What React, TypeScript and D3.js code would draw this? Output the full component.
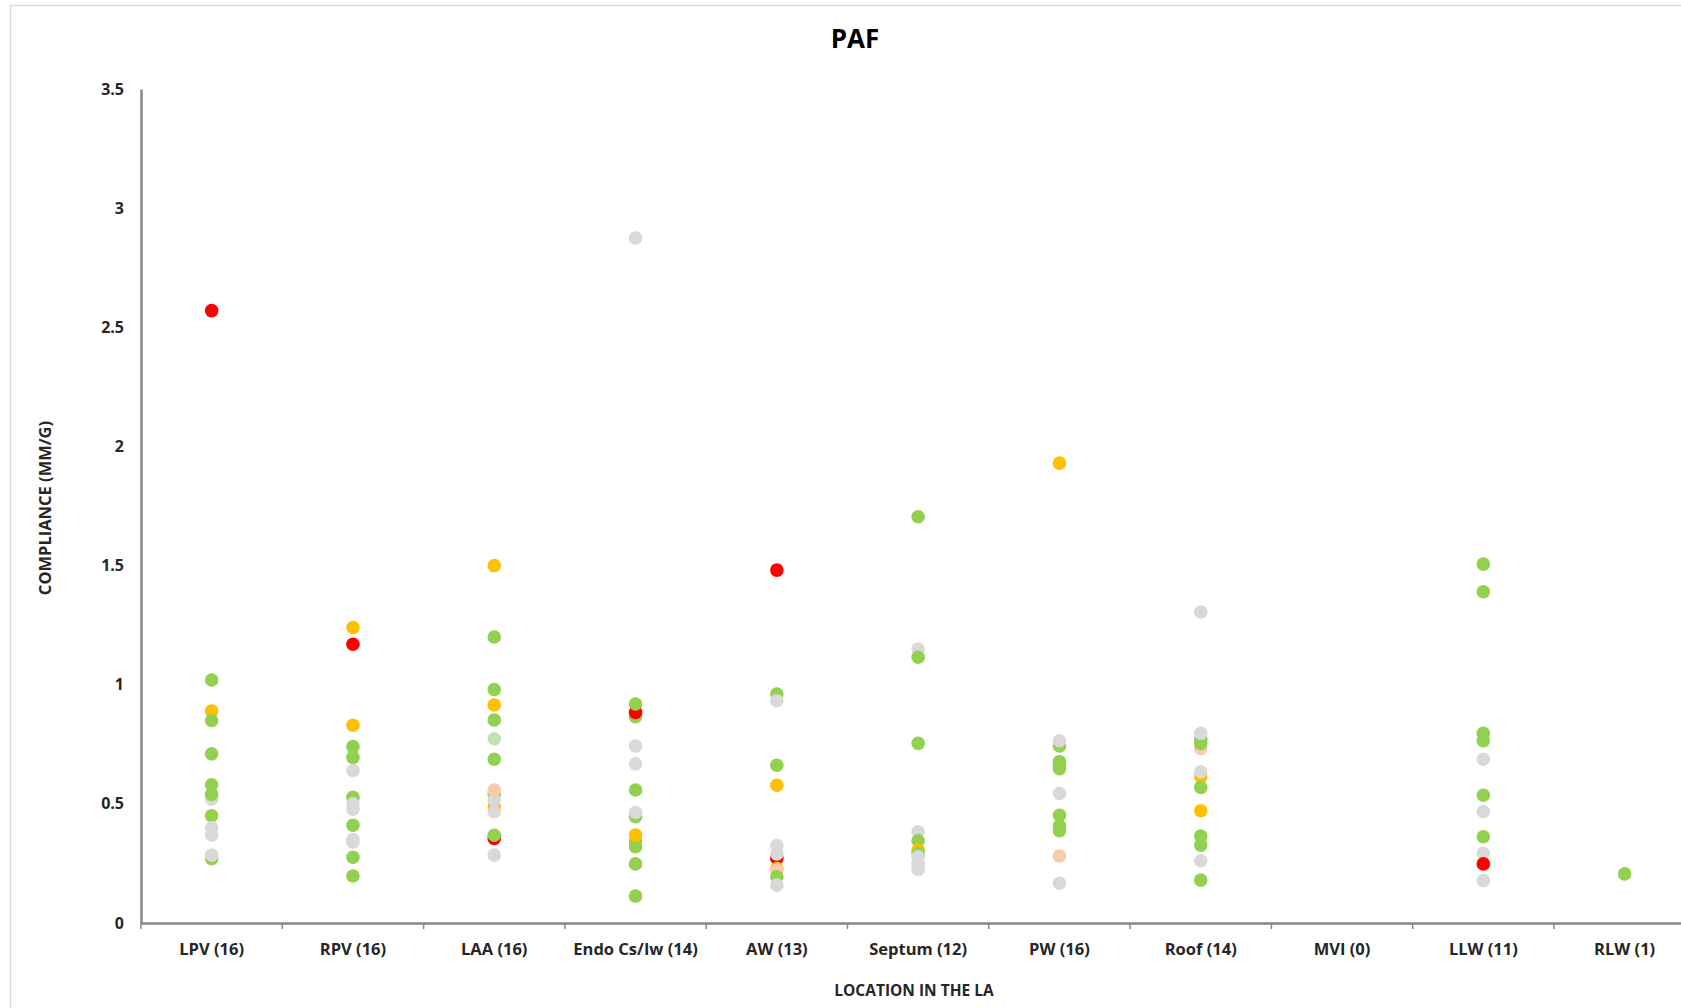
import React, { useEffect, useRef } from "react";
import * as d3 from "d3";

// location labels along the x axis
const categories = [
  "LPV (16)", "RPV (16)", "LAA (16)", "Endo Cs/Iw (14)", "AW (13)", "Septum (12)",
  "PW (16)", "Roof (14)", "MVI (0)", "LLW (11)", "RLW (1)",
];

const yTicks = [0, 0.5, 1, 1.5, 2, 2.5, 3, 3.5];

// [compliance, status] per location, drawn in this order (later on top)
// status: g green, o orange, r red, n grey, p peach, l pale green
const lpv = [[2.57, "r"], [1.02, "g"], [0.89, "o"], [0.85, "g"], [0.71, "g"], [0.58, "g"], [0.52, "n"], [0.54, "g"], [0.45, "g"], [0.40, "n"], [0.37, "n"], [0.27, "g"], [0.285, "n"]];
const rpv = [[1.24, "o"], [1.17, "r"], [0.83, "o"], [0.74, "g"], [0.695, "g"], [0.64, "n"], [0.527, "g"], [0.50, "n"], [0.478, "n"], [0.41, "g"], [0.35, "n"], [0.34, "n"], [0.276, "g"], [0.197, "g"]];
const laa = [[1.50, "o"], [1.20, "g"], [0.98, "g"], [0.915, "o"], [0.852, "g"], [0.773, "l"], [0.687, "g"], [0.54, "g"], [0.488, "o"], [0.516, "n"], [0.467, "n"], [0.558, "p"], [0.355, "r"], [0.368, "g"], [0.285, "n"]];
const endo = [[2.875, "n"], [0.866, "g"], [0.884, "r"], [0.919, "g"], [0.743, "n"], [0.668, "n"], [0.558, "g"], [0.446, "g"], [0.464, "n"], [0.32, "g"], [0.344, "g"], [0.369, "o"], [0.248, "g"], [0.113, "g"]];
const aw = [[1.481, "r"], [0.961, "g"], [0.933, "n"], [0.662, "g"], [0.578, "o"], [0.325, "n"], [0.272, "r"], [0.29, "n"], [0.229, "o"], [0.222, "p"], [0.194, "g"], [0.159, "n"]];
const septum = [[1.705, "g"], [1.15, "n"], [1.115, "g"], [0.754, "g"], [0.383, "n"], [0.345, "g"], [0.306, "o"], [0.292, "g"], [0.278, "n"], [0.25, "n"], [0.225, "n"]];
const pw = [[1.93, "o"], [0.743, "g"], [0.765, "n"], [0.677, "g"], [0.662, "g"], [0.648, "g"], [0.544, "n"], [0.452, "g"], [0.408, "g"], [0.387, "g"], [0.281, "p"], [0.167, "n"]];
const roof = [[1.305, "n"], [0.733, "p"], [0.754, "g"], [0.771, "g"], [0.796, "n"], [0.614, "o"], [0.635, "n"], [0.569, "g"], [0.471, "o"], [0.365, "g"], [0.327, "g"], [0.261, "n"], [0.18, "g"]];
const mvi: [number, string][] = [];
const llw = [[1.506, "g"], [1.39, "g"], [0.796, "g"], [0.765, "g"], [0.687, "n"], [0.536, "g"], [0.468, "n"], [0.362, "g"], [0.292, "n"], [0.248, "r"], [0.178, "n"]];
const rlw = [[0.206, "g"]];

const pointsByCategory = [lpv, rpv, laa, endo, aw, septum, pw, roof, mvi, llw, rlw];

const statusColors = {
  g: "#92D050",
  o: "#FFC000",
  r: "#FF0000",
  n: "#D9D9D9",
  p: "#F8CBAD",
  l: "#C5E0B4",
};

const FONT = "'Open Sans', 'DejaVu Sans', sans-serif";

export default function App() {
  const svgRef = useRef<SVGSVGElement>(null);

  useEffect(() => {
    const width = 1681;
    const height = 1008;
    const margin = { top: 89, left: 141, bottom: 85 };
    const step = 141.3;

    const svg = d3.select(svgRef.current);
    svg.selectAll("*").remove();
    svg.attr("width", width).attr("height", height);

    // chart frame (right and bottom edges fall outside the picture)
    svg.append("rect")
      .attr("x", 10.5)
      .attr("y", 5.5)
      .attr("width", 1720)
      .attr("height", 1040)
      .attr("fill", "#fff")
      .attr("stroke", "#d9d9d9")
      .attr("stroke-width", 1.5);

    const xScale = d3.scaleBand()
      .domain(categories)
      .range([margin.left, margin.left + step * categories.length])
      .padding(0);

    const yScale = d3.scaleLinear()
      .domain([0, 3.5])
      .range([height - margin.bottom, margin.top]);

    // y axis
    const yAxis = d3.axisLeft(yScale)
      .tickValues(yTicks)
      .tickSize(0)
      .tickPadding(17)
      .tickFormat(d => String(d));

    const gy = svg.append("g")
      .attr("transform", `translate(${margin.left}, 0)`)
      .call(yAxis);
    gy.select(".domain").attr("stroke", "#868686").attr("stroke-width", 2.5);
    gy.selectAll("text")
      .attr("font-family", FONT)
      .attr("font-weight", 700)
      .attr("font-size", 16)
      .attr("fill", "#262626");

    // x axis
    const xAxis = d3.axisBottom(xScale)
      .tickSize(0)
      .tickPadding(20);

    const gx = svg.append("g")
      .attr("transform", `translate(0, ${height - margin.bottom})`)
      .call(xAxis);
    gx.select(".domain").attr("stroke", "#868686").attr("stroke-width", 2.5);
    gx.selectAll("text")
      .attr("font-family", FONT)
      .attr("font-weight", 700)
      .attr("font-size", 16.5)
      .attr("fill", "#262626");

    // tick marks between categories
    const bounds = categories.map(c => xScale(c) as number);
    bounds.push(xScale.range()[1]);
    gx.selectAll("line.bound")
      .data(bounds)
      .enter()
      .append("line")
      .attr("class", "bound")
      .attr("x1", d => d)
      .attr("x2", d => d)
      .attr("y1", 0)
      .attr("y2", 6)
      .attr("stroke", "#868686")
      .attr("stroke-width", 1.5);

    // dots
    const dots = pointsByCategory.flatMap((pts, i) =>
      pts.map(([v, s]) => ({ cat: categories[i], value: v as number, status: s as string }))
    );

    svg.append("g")
      .selectAll("circle")
      .data(dots)
      .enter()
      .append("circle")
      .attr("cx", d => (xScale(d.cat) as number) + xScale.bandwidth() / 2)
      .attr("cy", d => yScale(d.value))
      .attr("r", 6.8)
      .attr("fill", d => statusColors[d.status]);

    // titles
    svg.append("text")
      .attr("x", 855)
      .attr("y", 48)
      .attr("text-anchor", "middle")
      .attr("font-family", FONT)
      .attr("font-weight", 700)
      .attr("font-size", 26)
      .attr("fill", "#000")
      .text("PAF");

    svg.append("text")
      .attr("x", 914)
      .attr("y", 996)
      .attr("text-anchor", "middle")
      .attr("font-family", FONT)
      .attr("font-weight", 700)
      .attr("font-size", 15.5)
      .attr("fill", "#262626")
      .text("LOCATION IN THE LA");

    svg.append("text")
      .attr("transform", "rotate(-90)")
      .attr("x", -508)
      .attr("y", 51)
      .attr("text-anchor", "middle")
      .attr("font-family", FONT)
      .attr("font-weight", 700)
      .attr("font-size", 16.5)
      .attr("fill", "#262626")
      .text("COMPLIANCE (MM/G)");
  }, []);

  return (
    <svg
      ref={svgRef}
      style={{ position: "absolute", left: 0, top: 0, display: "block" }}
    ></svg>
  );
}
